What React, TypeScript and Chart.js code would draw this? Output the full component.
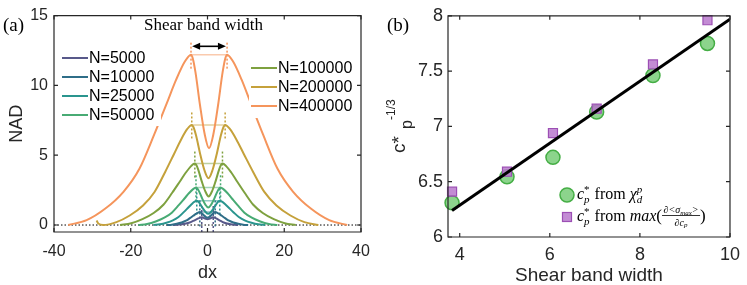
import React, { useEffect, useRef } from 'react';
import { Chart, registerables } from 'chart.js';

Chart.register(...registerables);

const SANS = "'Liberation Sans', Arial, Helvetica, sans-serif";
const SERIF = "'Liberation Serif', 'Times New Roman', 'DejaVu Serif', serif";
const AXIS = '#262626';

// ---------------- Panel (a) data ----------------
const seriesLabels = ['N=5000', 'N=10000', 'N=25000', 'N=50000', 'N=100000', 'N=200000', 'N=400000'];
const seriesColors = ['#58598a', '#2f6e88', '#2a958e', '#48ab74', '#7ea13f', '#c5a13b', '#f5955c'];

const dx5000 = [-9.0, -7.88, -6.75, -5.63, -4.65, -3.75, -3.0, -2.4, -1.88, -1.5, -1.35, -1.13, -0.75, -0.38, 0, 0.38, 0.75, 1.13, 1.35, 1.5, 1.83, 2.28, 2.8, 3.45, 4.23, 5.08, 6.05, 7.03, 8.0];
const nad5000 = [0, 0.016, 0.052, 0.107, 0.182, 0.292, 0.39, 0.47, 0.528, 0.55, 0.545, 0.525, 0.48, 0.44, 0.42, 0.44, 0.48, 0.525, 0.545, 0.55, 0.528, 0.47, 0.39, 0.292, 0.182, 0.107, 0.052, 0.016, 0];

const dx10000 = [-10.6, -9.31, -8.02, -6.73, -5.61, -4.58, -3.72, -3.03, -2.43, -2.0, -1.8, -1.5, -1.0, -0.5, 0, 0.5, 1.0, 1.5, 1.8, 2.0, 2.43, 3.03, 3.72, 4.58, 5.61, 6.73, 8.02, 9.31, 10.6];
const nad10000 = [0, 0.027, 0.088, 0.181, 0.307, 0.493, 0.66, 0.795, 0.893, 0.93, 0.91, 0.85, 0.71, 0.59, 0.52, 0.59, 0.71, 0.85, 0.91, 0.93, 0.893, 0.795, 0.66, 0.493, 0.307, 0.181, 0.088, 0.027, 0];

const dx25000 = [-14.1, -12.41, -10.71, -9.02, -7.55, -6.19, -5.06, -4.16, -3.37, -2.8, -2.5, -2.05, -1.3, -0.55, 0.2, 0.95, 1.7, 2.45, 2.9, 3.2, 3.79, 4.62, 5.56, 6.74, 8.16, 9.69, 11.46, 13.23, 15.0];
const nad25000 = [0, 0.05, 0.165, 0.339, 0.574, 0.922, 1.235, 1.488, 1.67, 1.74, 1.70, 1.56, 1.23, 0.95, 0.8, 0.95, 1.23, 1.56, 1.70, 1.74, 1.67, 1.488, 1.235, 0.922, 0.574, 0.339, 0.165, 0.05, 0];

const dx50000 = [-18.0, -15.75, -13.5, -11.25, -9.3, -7.5, -6.0, -4.8, -3.75, -3.0, -2.68, -2.2, -1.4, -0.6, 0.2, 1.0, 1.8, 2.6, 3.08, 3.4, 4.14, 5.18, 6.36, 7.84, 9.62, 11.54, 13.76, 15.98, 18.2];
const nad50000 = [0, 0.078, 0.255, 0.523, 0.884, 1.42, 1.90, 2.29, 2.57, 2.68, 2.62, 2.41, 1.91, 1.48, 1.25, 1.48, 1.91, 2.41, 2.62, 2.68, 2.57, 2.29, 1.90, 1.42, 0.884, 0.523, 0.255, 0.078, 0];

const dx100000 = [-22.8, -19.88, -16.95, -14.03, -11.49, -9.15, -7.2, -5.64, -4.28, -3.3, -2.94, -2.4, -1.5, -0.6, 0.3, 1.2, 2.1, 3.0, 3.54, 3.9, 4.86, 6.19, 7.72, 9.63, 11.92, 14.41, 17.27, 20.14, 23.0];
const nad100000 = [0, 0.128, 0.418, 0.858, 1.45, 2.33, 3.12, 3.76, 4.22, 4.4, 4.31, 3.95, 3.13, 2.43, 2.05, 2.43, 3.13, 3.95, 4.31, 4.4, 4.22, 3.76, 3.12, 2.33, 1.45, 0.858, 0.418, 0.128, 0];

const dx200000 = [-28.9, -28.4, -27.2, -23.74, -20.27, -16.8, -13.8, -11.03, -8.72, -6.87, -5.26, -4.1, -3.67, -3.01, -1.93, -0.84, 0.25, 1.34, 2.43, 3.51, 4.17, 4.6, 5.82, 7.52, 9.46, 11.89, 14.81, 17.97, 21.61, 25.26, 28.9];
const nad200000 = [0.32, 0.1, 0, 0.208, 0.681, 1.40, 2.37, 3.80, 5.09, 6.13, 6.88, 7.17, 7.02, 6.44, 5.11, 3.96, 3.35, 3.96, 5.11, 6.44, 7.02, 7.17, 6.88, 6.13, 5.09, 3.80, 2.37, 1.40, 0.681, 0.208, 0];

const dx400000 = [-36.3, -31.5, -26.7, -21.9, -17.74, -13.9, -10.7, -8.14, -5.9, -4.3, -3.83, -3.13, -1.95, -0.78, 0.4, 1.58, 2.75, 3.93, 4.63, 5.1, 6.67, 8.86, 11.36, 14.49, 18.25, 22.32, 27.01, 31.71, 36.4];
const nad400000 = [0, 0.35, 1.16, 2.38, 4.03, 6.47, 8.66, 10.43, 11.71, 12.2, 11.93, 10.93, 8.58, 6.57, 5.5, 6.57, 8.58, 10.93, 11.93, 12.2, 11.71, 10.43, 8.66, 6.47, 4.03, 2.38, 1.16, 0.35, 0];

// shear band markers (peak positions / heights) for each N
const peakLeft = [-1.5, -2.0, -2.8, -3.0, -3.3, -4.1, -4.3];
const peakRight = [1.5, 2.0, 3.2, 3.4, 3.9, 4.6, 5.1];
const peakNAD = [0.55, 0.93, 1.74, 2.68, 4.4, 7.17, 12.2];
const dotLow = [-0.5, -0.1, 0.75, 1.7, 3.4, 6.2, 11.2];
const dotHigh = [1.5, 1.9, 2.75, 3.7, 5.4, 8.2, 13.2];

const xTicksA = [-40, -20, 0, 20, 40];
const yTicksA = [0, 5, 10, 15];

// annotation arrow (data coords)
const arrowFrom = -4.0;
const arrowTo = 4.8;
const arrowLevel = 12.8;

// ---------------- Panel (b) data ----------------
const bandWidth = [3.83, 5.05, 6.07, 7.04, 8.29, 9.5];
const cpChi = [6.31, 6.545, 6.72, 7.13, 7.46, 7.75];
const cpMax = [6.41, 6.59, 6.94, 7.16, 7.56, 7.96];
const fitX = [3.83, 10.0];
const fitY = [6.24, 7.97];
const xTicksB = [4, 6, 8, 10];
const yTicksB = [6, 6.5, 7, 7.5, 8];

function rgba(hex: string, a: number) {
  const n = parseInt(hex.slice(1), 16);
  return `rgba(${(n >> 16) & 255},${(n >> 8) & 255},${n & 255},${a})`;
}

function drawFrame(chart: any, xt: number[], yt: number[], len: number) {
  const { ctx, chartArea, scales } = chart;
  const { left, right, top, bottom } = chartArea;
  ctx.save();
  ctx.strokeStyle = AXIS;
  ctx.lineWidth = 1.2;
  ctx.beginPath();
  ctx.rect(left, top, right - left, bottom - top);
  ctx.stroke();
  ctx.beginPath();
  for (const v of xt) {
    const p = scales.x.getPixelForValue(v);
    ctx.moveTo(p, bottom); ctx.lineTo(p, bottom - len);
    ctx.moveTo(p, top); ctx.lineTo(p, top + len);
  }
  for (const v of yt) {
    const p = scales.y.getPixelForValue(v);
    ctx.moveTo(left, p); ctx.lineTo(left + len, p);
    ctx.moveTo(right, p); ctx.lineTo(right - len, p);
  }
  ctx.stroke();
  ctx.restore();
}

const panelAPlugin = {
  id: 'panelADeco',
  afterDatasetsDraw(chart: any) {
    const { ctx, scales, chartArea } = chart;
    ctx.save();
    // legend backgrounds
    ctx.fillStyle = '#ffffff';
    ctx.fillRect(56, 47, 105, 79);
    ctx.fillRect(249, 57, 110, 61);
    ctx.font = `16px ${SANS}`;
    ctx.textBaseline = 'middle';
    ctx.textAlign = 'left';
    const rowsL = [58, 77, 96, 115];
    const rowsR = [68, 87, 106];
    seriesLabels.forEach((lab, i) => {
      const isLeft = i < 4;
      const yy = isLeft ? rowsL[i] : rowsR[i - 4];
      const x0 = isLeft ? 62 : 251;
      ctx.strokeStyle = seriesColors[i];
      ctx.lineWidth = 2;
      ctx.beginPath(); ctx.moveTo(x0, yy); ctx.lineTo(x0 + 26, yy); ctx.stroke();
      ctx.fillStyle = '#000';
      ctx.fillText(lab, x0 + 27, yy + 1);
    });
    ctx.restore();

    drawFrame(chart, xTicksA, yTicksA, 4);

    ctx.save();
    ctx.fillStyle = AXIS;
    ctx.font = `18px ${SANS}`;
    ctx.textAlign = 'center';
    ctx.textBaseline = 'alphabetic';
    ctx.fillText('dx', (chartArea.left + chartArea.right) / 2, 278);
    ctx.save();
    ctx.translate(22, (chartArea.top + chartArea.bottom) / 2);
    ctx.rotate(-Math.PI / 2);
    ctx.fillText('NAD', 0, 0);
    ctx.restore();

    ctx.fillStyle = '#000';
    ctx.font = `19px ${SERIF}`;
    ctx.textAlign = 'left';
    ctx.fillText('(a)', 3, 31);
    ctx.font = `17px ${SERIF}`;
    ctx.textAlign = 'center';
    ctx.fillText('Shear band width', 203.5, 30);

    const ax1 = scales.x.getPixelForValue(arrowFrom);
    const ax2 = scales.x.getPixelForValue(arrowTo);
    const ay = scales.y.getPixelForValue(arrowLevel);
    ctx.strokeStyle = '#000';
    ctx.lineWidth = 1.6;
    ctx.beginPath(); ctx.moveTo(ax1 + 5, ay); ctx.lineTo(ax2 - 5, ay); ctx.stroke();
    ctx.beginPath(); ctx.moveTo(ax1, ay); ctx.lineTo(ax1 + 8, ay - 3.5); ctx.lineTo(ax1 + 8, ay + 3.5); ctx.closePath(); ctx.fill();
    ctx.beginPath(); ctx.moveTo(ax2, ay); ctx.lineTo(ax2 - 8, ay - 3.5); ctx.lineTo(ax2 - 8, ay + 3.5); ctx.closePath(); ctx.fill();
    ctx.restore();
  },
};

function drawScripts(ctx: any, x: number, y: number, sup: string, sub: string, supItalic: boolean, subItalic: boolean, size: number) {
  ctx.font = `${supItalic ? 'italic ' : ''}${size}px ${SERIF}`;
  ctx.fillText(sup, x, y - 6);
  const w1 = ctx.measureText(sup).width;
  ctx.font = `${subItalic ? 'italic ' : ''}${size}px ${SERIF}`;
  ctx.fillText(sub, x, y + 4);
  const w2 = ctx.measureText(sub).width;
  return x + Math.max(w1, w2) + 1;
}

function drawText(ctx: any, t: string, x: number, y: number, font: string) {
  ctx.font = font;
  ctx.fillText(t, x, y);
  return x + ctx.measureText(t).width;
}

const panelBPlugin = {
  id: 'panelBDeco',
  afterDatasetsDraw(chart: any) {
    const { ctx, chartArea } = chart;
    drawFrame(chart, xTicksB, yTicksB, 4);
    ctx.save();
    // axis titles
    ctx.fillStyle = AXIS;
    ctx.textBaseline = 'alphabetic';
    ctx.textAlign = 'center';
    ctx.font = `19px ${SANS}`;
    ctx.fillText('Shear band width', (chartArea.left + chartArea.right) / 2, 281);

    ctx.save();
    ctx.translate(25, 153);
    ctx.rotate(-Math.PI / 2);
    ctx.textAlign = 'left';
    ctx.font = `19px ${SANS}`;
    ctx.fillText('c*', 0, 0);
    ctx.font = `16px ${SANS}`;
    ctx.fillText('p', 24, 7);
    ctx.font = `12px ${SANS}`;
    ctx.fillText('-1/3', 33, -10);
    ctx.restore();

    ctx.fillStyle = '#000';
    ctx.textAlign = 'left';
    ctx.font = `19px ${SERIF}`;
    ctx.fillText('(b)', 7, 31);

    // legend markers
    const mx = 187;
    ctx.beginPath();
    ctx.arc(mx, 195, 7, 0, Math.PI * 2);
    ctx.fillStyle = 'rgba(120,205,120,0.85)';
    ctx.fill();
    ctx.lineWidth = 1.5;
    ctx.strokeStyle = '#45ae45';
    ctx.stroke();
    ctx.fillStyle = 'rgba(185,120,205,0.85)';
    ctx.fillRect(mx - 4.5, 217 - 4.5, 9, 9);
    ctx.lineWidth = 1.2;
    ctx.strokeStyle = '#9c4fb4';
    ctx.strokeRect(mx - 4.5, 217 - 4.5, 9, 9);

    // legend texts
    ctx.fillStyle = '#000';
    const it = `italic 16px ${SERIF}`;
    const rm = `16px ${SERIF}`;
    let cx = 197;
    let by = 199;
    cx = drawText(ctx, 'c', cx, by, it);
    cx = drawScripts(ctx, cx, by, '*', 'p', false, true, 11);
    cx = drawText(ctx, ' from ', cx, by, rm);
    cx = drawText(ctx, 'χ', cx, by, it);
    cx = drawScripts(ctx, cx, by, 'p', 'd', true, true, 11);

    cx = 197;
    by = 221;
    cx = drawText(ctx, 'c', cx, by, it);
    cx = drawScripts(ctx, cx, by, '*', 'p', false, true, 11);
    cx = drawText(ctx, ' from ', cx, by, rm);
    cx = drawText(ctx, 'max', cx, by, it);
    cx = drawText(ctx, '(', cx, by, `17px ${SERIF}`);
    // fraction
    const fs = 10;
    ctx.font = `italic ${fs}px ${SERIF}`;
    const wA = ctx.measureText('∂<σ').width;
    ctx.font = `italic ${fs - 3}px ${SERIF}`;
    const wB = ctx.measureText('max').width;
    ctx.font = `italic ${fs}px ${SERIF}`;
    const wC = ctx.measureText('>').width;
    const nw = wA + wB + wC;
    const wD = ctx.measureText('∂c').width;
    ctx.font = `italic ${fs - 3}px ${SERIF}`;
    const wE = ctx.measureText('p').width;
    const dw = wD + wE;
    const W = Math.max(nw, dw) + 3;
    let nx = cx + (W - nw) / 2;
    nx = drawText(ctx, '∂<σ', nx, by - 8, `italic ${fs}px ${SERIF}`);
    nx = drawText(ctx, 'max', nx, by - 6.5, `italic ${fs - 3}px ${SERIF}`);
    drawText(ctx, '>', nx, by - 8, `italic ${fs}px ${SERIF}`);
    ctx.strokeStyle = '#000';
    ctx.lineWidth = 0.8;
    ctx.beginPath(); ctx.moveTo(cx, by - 5.5); ctx.lineTo(cx + W, by - 5.5); ctx.stroke();
    let dxp = cx + (W - dw) / 2;
    dxp = drawText(ctx, '∂c', dxp, by + 4.5, `italic ${fs}px ${SERIF}`);
    drawText(ctx, 'p', dxp, by + 6, `italic ${fs - 3}px ${SERIF}`);
    cx += W;
    drawText(ctx, ')', cx, by, `17px ${SERIF}`);
    ctx.restore();
  },
};

function PanelA() {
  const ref = useRef<HTMLCanvasElement>(null);
  useEffect(() => {
    const xs = [dx5000, dx10000, dx25000, dx50000, dx100000, dx200000, dx400000];
    const ys = [nad5000, nad10000, nad25000, nad50000, nad100000, nad200000, nad400000];
    const datasets: any[] = [];
    xs.forEach((arr, i) => {
      datasets.push({
        label: seriesLabels[i],
        data: arr.map((v, k) => ({ x: v, y: ys[i][k] })),
        borderColor: seriesColors[i],
        borderWidth: 2,
        pointRadius: 0,
        cubicInterpolationMode: 'monotone',
        fill: false,
        order: 10 - i,
      });
    });
    seriesColors.forEach((c, i) => {
      datasets.push({
        data: [{ x: peakLeft[i], y: peakNAD[i] }, { x: peakRight[i], y: peakNAD[i] }],
        borderColor: rgba(c, 0.5), borderWidth: 1.5, pointRadius: 0, order: 20,
      });
      datasets.push({
        data: [{ x: peakLeft[i], y: dotLow[i] }, { x: peakLeft[i], y: dotHigh[i] }],
        borderColor: c, borderWidth: 1.5, borderDash: [2, 2], pointRadius: 0, order: 21,
      });
      datasets.push({
        data: [{ x: peakRight[i], y: dotLow[i] }, { x: peakRight[i], y: dotHigh[i] }],
        borderColor: c, borderWidth: 1.5, borderDash: [2, 2], pointRadius: 0, order: 21,
      });
    });
    datasets.push({
      data: [{ x: xTicksA[0], y: 0 }, { x: xTicksA[xTicksA.length - 1], y: 0 }],
      borderColor: '#000', borderWidth: 1, borderDash: [1.5, 2], pointRadius: 0, order: 40,
    });

    const chart = new Chart(ref.current as HTMLCanvasElement, {
      type: 'line',
      data: { datasets },
      options: {
        animation: false,
        responsive: false,
        maintainAspectRatio: false,
        layout: { padding: { left: 0, right: 19, top: 9, bottom: 0 } },
        plugins: { legend: { display: false }, tooltip: { enabled: false } },
        scales: {
          x: {
            type: 'linear', min: -40, max: 40,
            grid: { display: false, drawTicks: false }, border: { display: false },
            ticks: { font: { family: SANS, size: 16 }, color: AXIS, padding: 10, maxRotation: 0, minRotation: 0, autoSkip: false },
            afterBuildTicks: (s: any) => { s.ticks = xTicksA.map((v) => ({ value: v })); },
            afterFit: (s: any) => { s.height = 53; },
          },
          y: {
            type: 'linear', min: -0.5, max: 15,
            grid: { display: false, drawTicks: false }, border: { display: false },
            ticks: { font: { family: SANS, size: 16 }, color: AXIS, padding: 6, autoSkip: false },
            afterBuildTicks: (s: any) => { s.ticks = yTicksA.map((v) => ({ value: v })); },
            afterFit: (s: any) => { s.width = 54; },
          },
        },
      } as any,
      plugins: [panelAPlugin],
    });
    return () => chart.destroy();
  }, []);
  return <canvas ref={ref} width={380} height={285} style={{ position: 'absolute', left: 0, top: 0 }} />;
}

function PanelB() {
  const ref = useRef<HTMLCanvasElement>(null);
  useEffect(() => {
    const chart = new Chart(ref.current as HTMLCanvasElement, {
      type: 'scatter',
      data: {
        datasets: [
          {
            data: fitX.map((v, i) => ({ x: v, y: fitY[i] })),
            showLine: true, borderColor: '#000', borderWidth: 3, pointRadius: 0, order: 0,
          },
          {
            data: bandWidth.map((v, i) => ({ x: v, y: cpMax[i] })),
            pointStyle: 'rect', pointRadius: 6.4,
            backgroundColor: 'rgba(185,120,205,0.85)', borderColor: '#9c4fb4', borderWidth: 1.2,
            order: 1, clip: 10,
          },
          {
            data: bandWidth.map((v, i) => ({ x: v, y: cpChi[i] })),
            pointStyle: 'circle', pointRadius: 7,
            backgroundColor: 'rgba(120,205,120,0.85)', borderColor: '#45ae45', borderWidth: 1.5,
            order: 2, clip: 10,
          },
        ],
      },
      options: {
        animation: false,
        responsive: false,
        maintainAspectRatio: false,
        layout: { padding: { left: 0, right: 10, top: 13, bottom: 0 } },
        plugins: { legend: { display: false }, tooltip: { enabled: false } },
        scales: {
          x: {
            type: 'linear', min: 3.74, max: 10,
            grid: { display: false, drawTicks: false }, border: { display: false },
            ticks: { font: { family: SANS, size: 18 }, color: AXIS, padding: 7, maxRotation: 0, minRotation: 0, autoSkip: false, callback: (v: any) => String(v) },
            afterBuildTicks: (s: any) => { s.ticks = xTicksB.map((v) => ({ value: v })); },
            afterFit: (s: any) => { s.height = 48; },
          },
          y: {
            type: 'linear', min: 6, max: 8,
            grid: { display: false, drawTicks: false }, border: { display: false },
            ticks: { font: { family: SANS, size: 18 }, color: AXIS, padding: 5, autoSkip: false, callback: (v: any) => String(v) },
            afterBuildTicks: (s: any) => { s.ticks = yTicksB.map((v) => ({ value: v })); },
            afterFit: (s: any) => { s.width = 68; },
          },
        },
      } as any,
      plugins: [panelBPlugin],
    });
    return () => chart.destroy();
  }, []);
  return <canvas ref={ref} width={367} height={285} style={{ position: 'absolute', left: 380, top: 0 }} />;
}

export default function App() {
  return (
    <div style={{ position: 'absolute', left: 0, top: 0, width: 747, height: 285, background: '#ffffff' }}>
      <PanelA />
      <PanelB />
    </div>
  );
}
